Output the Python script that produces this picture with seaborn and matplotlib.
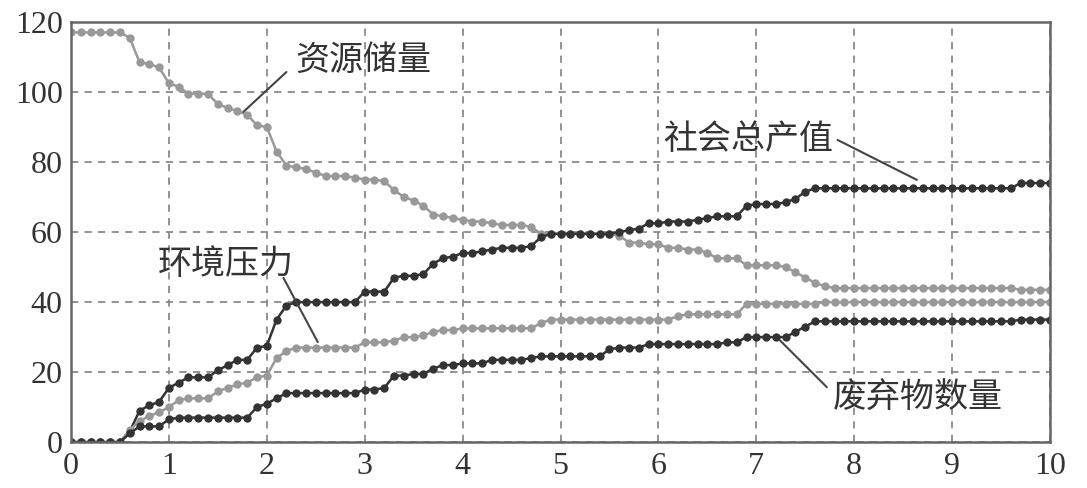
import numpy as np
import pandas as pd
import seaborn as sns
import matplotlib.pyplot as plt

# time grid (0 .. 10, step 0.1)
t = np.round(np.linspace(0, 10, 101), 1)

resource = ([117] * 6 +
            [115.5, 108.5, 108, 107, 102.5, 101.5, 99.5, 99.5, 99.5, 96.5,
             95.5, 94.5, 93.5, 90.5, 90, 83, 79, 78.5, 78, 77,
             76, 76, 76, 75.5, 75, 75, 74.5, 72, 70, 69,
             67.5, 65, 64.5, 64, 63.5, 63, 63, 62.5, 62, 62,
             62, 61.5, 59.5, 59.5, 59.5, 59.5, 59.5, 59.5, 59.5, 59.5,
             59, 57, 57, 56.5, 56.5, 55.5, 55.5, 55, 55, 54,
             52.5, 52.5, 52.5, 50.5, 50.5, 50.5, 50.5, 50, 48.5, 47,
             45.5, 44.5] +
            [44] * 19 + [43.5] * 4)

output = ([0] * 6 +
          [3, 9, 10.5, 11.5, 15.5, 17, 18.5, 18.5, 18.5, 20.5,
           22, 23.5, 23.5, 27, 27.5, 35, 39, 40] +
          [40] * 6 +
          [43, 43, 43, 47, 47.5, 47.5, 48, 51, 52.5, 53,
           54, 54, 54.5, 55, 55.5, 55.5, 55.5, 56, 58.5] +
          [59.5] * 7 +
          [60, 60.5, 61, 62.5, 62.5, 63, 63, 63, 63.5, 64,
           64.5, 64.5, 64.5, 67.5, 68, 68, 68, 68.5, 69.5, 71.5, 72.5] +
          [72.5] * 20 + [74] * 4)

pressure = ([0] * 6 +
            [3.5, 6, 7.5, 8.5, 10, 12, 12.5, 12.5, 12.5, 14.5,
             15.5, 16.5, 17, 18.5, 19, 24, 26, 27] +
            [27] * 6 +
            [28.5, 28.5, 28.5, 29, 30, 30, 30.5, 31.5, 32, 32] +
            [32.5] * 8 + [34] + [35] * 13 + [36] + [36.5] * 6 +
            [39.5] * 8 + [40] * 24)

waste = ([0] * 6 +
         [2.5, 4.5, 4.5, 4.5, 6.5, 7] +
         [7] * 7 +
         [10, 11, 12.5, 14] +
         [14] * 7 +
         [15, 15, 15.5, 19, 19, 19.5, 19.5, 21, 22, 22,
          22.5, 22.5, 22.5, 23.5, 23.5, 23.5, 23.5, 24] +
         [24.5] * 7 +
         [26.5, 27, 27, 27] +
         [28] * 8 + [28.5, 28.5] + [30] * 5 + [31.5, 33] +
         [34.5] * 21 + [35] * 4)

names = ['资源储量', '社会总产值', '环境压力', '废弃物数量']
colors = ['#999999', '#333333', '#999999', '#333333']

df = pd.DataFrame({
    't': np.tile(t, 4),
    'value': np.concatenate([resource, output, pressure, waste]),
    'series': np.repeat(names, len(t)),
})

sns.set_style('white')
plt.rcParams['font.family'] = ['Liberation Serif', 'Noto Sans CJK SC']

fig = plt.figure(figsize=(10.87, 4.88), dpi=100)
ax = fig.add_axes([0.0653, 0.094, 0.9007, 0.861])

sns.lineplot(data=df, x='t', y='value', hue='series', hue_order=names,
             palette=dict(zip(names, colors)), marker='o', markersize=6,
             markeredgewidth=0, linewidth=1.8, legend=False, ax=ax)

ax.set_xlim(0, 10)
ax.set_ylim(0, 120)
ax.set_xticks(range(0, 11))
ax.set_yticks(range(0, 121, 20))
ax.set_xlabel('')
ax.set_ylabel('')
ax.tick_params(length=0, labelsize=23, colors='#333333')
ax.tick_params(axis='x', pad=7)
ax.tick_params(axis='y', pad=6)
ax.grid(True, linestyle=(0, (4, 3.5)), color='#8a8a8a', linewidth=1.3)
for s in ax.spines.values():
    s.set_color('#666666')
    s.set_linewidth(1.8)

# labels with leader lines
labels = [
    ('资源储量', (2.29, 109), (2.2, 105.7), (1.76, 94.3)),
    ('社会总产值', (6.05, 86.3), (7.83, 86.3), (8.64, 74.9)),
    ('环境压力', (0.89, 50.6), (2.17, 46.9), (2.52, 28.6)),
    ('废弃物数量', (7.78, 12.9), (7.72, 15.7), (7.24, 29.1)),
]
for txt, pos, p0, p1 in labels:
    ax.text(pos[0], pos[1], txt, fontsize=24.5, color='#333333',
            va='center', ha='left', family=['Noto Sans CJK SC'])
    ax.plot([p0[0], p1[0]], [p0[1], p1[1]], color='#444444', linewidth=1.5)

plt.savefig('out.png', dpi=100)
